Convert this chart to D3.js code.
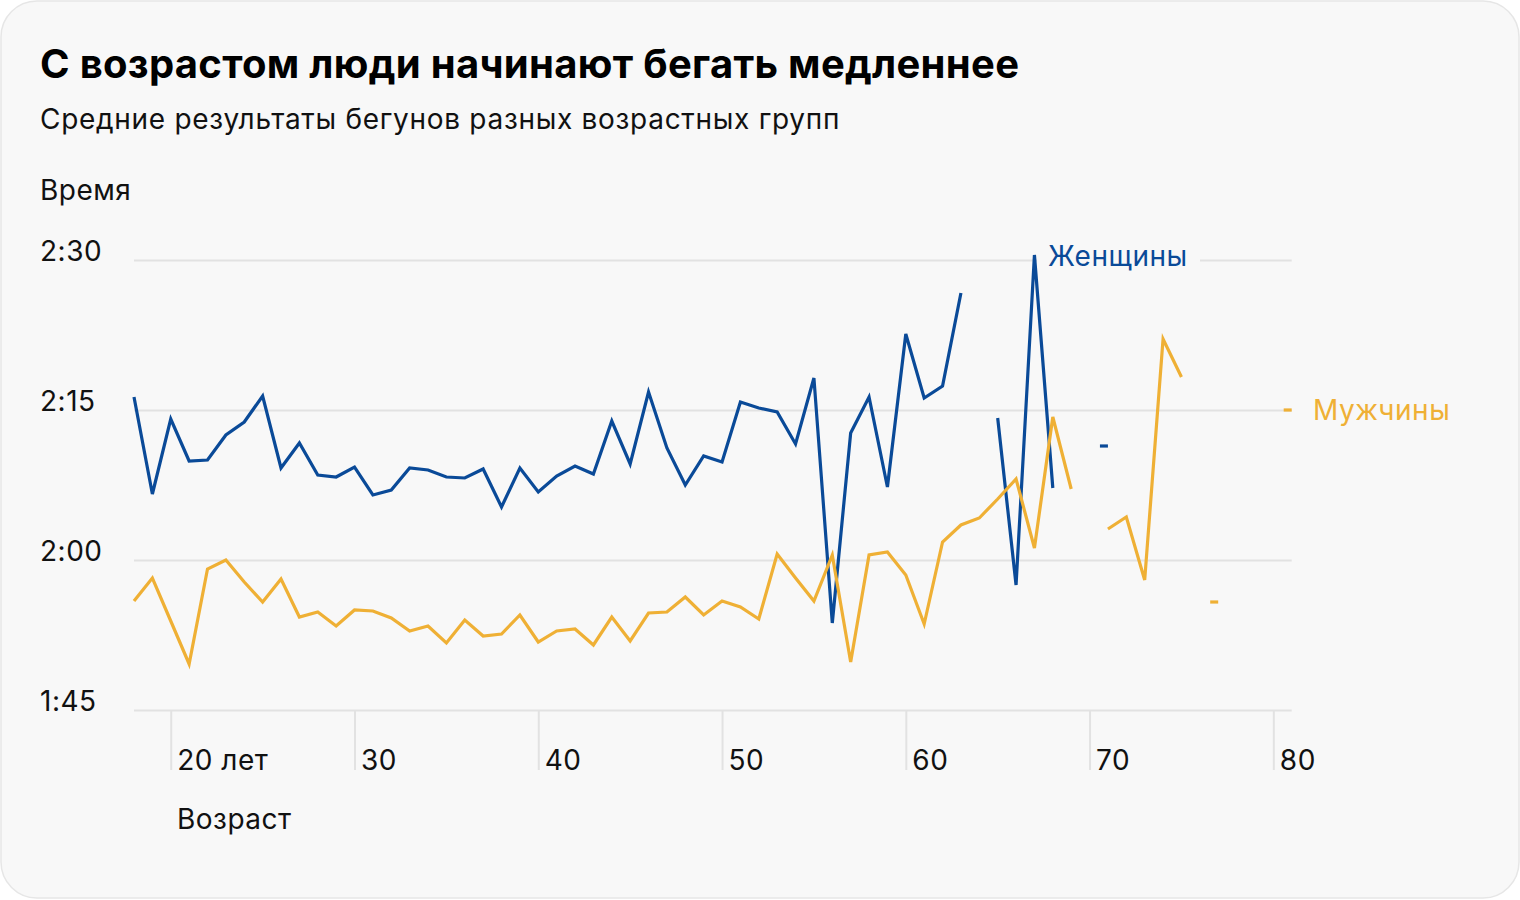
<!DOCTYPE html>
<html><head><meta charset="utf-8">
<script src="https://cdn.jsdelivr.net/npm/d3@7"></script>
<style>
html,body{margin:0;padding:0;background:#fff;}
svg text{font-family:Inter,"Noto Sans",sans-serif;}
</style></head>
<body><svg id="c" width="1520" height="900"></svg>
<script>
const title = "С возрастом люди начинают бегать медленнее";
const subtitle = "Средние результаты бегунов разных возрастных групп";
const yAxisTitle = "Время";
const xAxisTitle = "Возраст";
const ages = d3.range(18, 82);
// average finish time in minutes (null = no data)
const women = [136.3,126.6,134.1,129.9,130.0,132.5,133.8,136.4,129.2,131.7,128.5,128.3,129.3,126.5,127.0,129.2,129.0,128.3,128.2,129.1,125.3,129.2,126.8,128.4,129.4,128.6,133.9,129.6,136.8,131.2,127.5,130.4,129.8,135.8,135.2,134.8,131.6,138.2,113.7,132.7,136.3,127.3,142.6,136.2,137.4,146.7,null,134.2,117.5,150.5,127.2,null,null,131.4,null,null,null,null,null,null,null,null,null,null];
const men = [115.9,118.2,113.9,109.6,119.1,120.0,117.8,115.8,118.1,114.3,114.8,113.4,115.0,114.9,114.2,112.9,113.4,111.7,114.0,112.4,112.6,114.5,111.8,112.9,113.1,111.5,114.3,111.9,114.7,114.8,116.3,114.5,115.9,115.3,114.1,120.6,118.2,115.9,120.5,109.8,120.5,120.8,118.5,113.6,121.8,123.5,124.2,126.1,128.1,121.2,134.3,127.1,null,123.1,124.3,118.0,142.1,138.3,null,115.8,null,null,null,135.0];
const yTicks = [105, 120, 135, 150];
const xTicks = [20, 30, 40, 50, 60, 70, 80];
const seriesNames = ["Женщины", "Мужчины"];
const colors = ["#0A4A98", "#EFB035"];

const FS = 28, LS = 0.5;
const svg = d3.select("#c");
svg.append("rect").attr("x",1).attr("y",1).attr("width",1518).attr("height",897)
  .attr("rx",36).attr("fill","#F8F8F8").attr("stroke","#E6E6E6").attr("stroke-width",1.5);

svg.append("text").attr("x",40).attr("y",78).attr("font-size",40).attr("font-weight",700)
  .attr("letter-spacing",0.3).attr("fill","#000").text(title);
svg.append("text").attr("x",40).attr("y",129).attr("font-size",FS).attr("letter-spacing",0.7)
  .attr("fill","#111").text(subtitle);
svg.append("text").attr("x",40).attr("y",200).attr("font-size",FS).attr("letter-spacing",LS)
  .attr("fill","#111").text(yAxisTitle);

const x = d3.scaleLinear().domain([18, 81]).range([134, 1291.7]);
const y = d3.scaleLinear().domain([105, 150]).range([710, 260]);
const fmt = m => Math.floor(m/60) + ":" + String(Math.round(m%60)).padStart(2,"0");

// horizontal gridlines + y labels
const yAxis = d3.axisLeft(y).tickValues(yTicks).tickSize(-(1291.7-134)).tickFormat(fmt);
const yg = svg.append("g").attr("transform","translate(134,0)").call(yAxis);
yg.select(".domain").remove();
yg.selectAll(".tick line").attr("stroke","#E2E2E2").attr("stroke-width",2);
yg.selectAll(".tick text").attr("x",-94).attr("dy",0).attr("text-anchor","start")
  .attr("font-size",FS).attr("letter-spacing",LS).attr("fill","#111")
  .attr("font-family","Inter,'Noto Sans',sans-serif");

// x ticks (vertical stubs) + labels
const xAxis = d3.axisBottom(x).tickValues(xTicks).tickSize(60)
  .tickFormat(d => d === 20 ? "20 лет" : String(d));
const xg = svg.append("g").attr("transform","translate(0,710)").call(xAxis);
xg.select(".domain").remove();
xg.selectAll(".tick line").attr("stroke","#E2E2E2").attr("stroke-width",2);
xg.selectAll(".tick text").attr("x",6).attr("y",60).attr("dy",0).attr("text-anchor","start")
  .attr("font-size",FS).attr("letter-spacing",LS).attr("fill","#111")
  .attr("font-family","Inter,'Noto Sans',sans-serif");
svg.append("text").attr("x",177).attr("y",829).attr("font-size",FS).attr("letter-spacing",LS)
  .attr("fill","#111").text(xAxisTitle);

// Женщины label with background masking gridline
const lblW = svg.append("g");
lblW.append("rect").attr("x",1037).attr("y",236).attr("width",163).attr("height",40).attr("fill","#F8F8F8");
lblW.append("text").attr("x",1048).attr("y",266).attr("font-size",FS).attr("letter-spacing",LS)
  .attr("fill",colors[0]).text(seriesNames[0]);

// lines
const line = d3.line().defined(d => d.v !== null).x(d => x(d.a)).y(d => y(d.v));
[women, men].forEach((vals, i) => {
  const data = ages.map((a, k) => ({a, v: vals[k]}));
  svg.append("path").datum(data).attr("d", line).attr("fill","none")
    .attr("stroke", colors[i]).attr("stroke-width",3.2).attr("stroke-linejoin","miter");
  // isolated points drawn as short dashes
  data.forEach((d, k) => {
    if (d.v === null) return;
    const prev = k > 0 ? data[k-1].v : null, next = k < data.length-1 ? data[k+1].v : null;
    if (prev === null && next === null) {
      svg.append("line").attr("x1", x(d.a) - 8).attr("x2", x(d.a))
        .attr("y1", y(d.v)).attr("y2", y(d.v)).attr("stroke", colors[i]).attr("stroke-width",3.2);
    }
  });
});

svg.append("text").attr("x",1313).attr("y",420).attr("font-size",FS).attr("letter-spacing",LS)
  .attr("fill",colors[1]).text(seriesNames[1]);
</script></body></html>
